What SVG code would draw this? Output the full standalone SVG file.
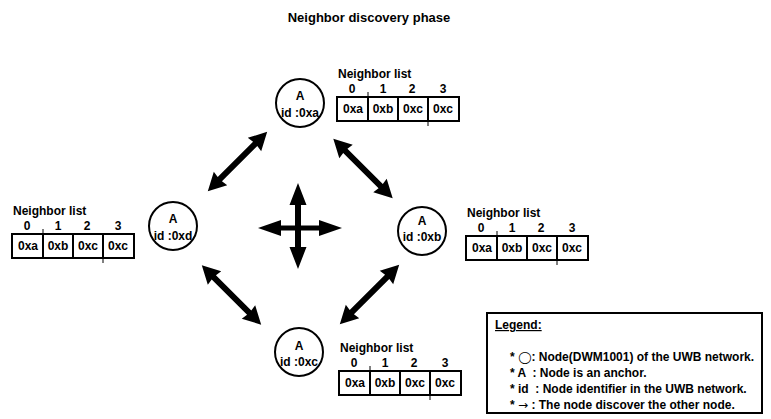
<svg xmlns="http://www.w3.org/2000/svg" xmlns:xlink="http://www.w3.org/1999/xlink" width="771" height="419" viewBox="0 0 771 419">
<style>
text{font-family:"Liberation Sans",Arial,sans-serif;font-weight:bold;fill:#000}
.title{font-size:13px}
.nd{font-size:12px;text-anchor:middle}
.lbl{font-size:12px}
.idx{font-size:12px;text-anchor:middle}
.cell{font-size:12px;text-anchor:middle}
.lg{font-size:12px;white-space:pre}
.sym{font-family:"DejaVu Sans",sans-serif;font-weight:normal}
.ring{fill:#fff;stroke:#000;stroke-width:2}
.box{fill:#fff;stroke:#000;stroke-width:2}
.div{stroke:#000;stroke-width:2}
.tick{stroke:#000;stroke-width:1}
</style>
<defs>
<polygon id="dbl" points="-42,0 -24,-9.5 -25,-3 25,-3 24,-9.5 42,0 24,9.5 25,3 -25,3 -24,9.5" fill="#000"/>
<g id="nlist">
<text class="lbl" x="1" y="-19">Neighbor list</text>
<text class="idx" x="15" y="-4">0</text>
<text class="idx" x="46" y="-4">1</text>
<text class="idx" x="75" y="-4">2</text>
<text class="idx" x="106" y="-4">3</text>
<rect class="box" x="0" y="0" width="122" height="24"/>
<line class="div" x1="31" y1="0" x2="31" y2="24"/>
<line class="div" x1="61" y1="0" x2="61" y2="24"/>
<line class="div" x1="91" y1="0" x2="91" y2="24"/>
<line class="tick" x1="31" y1="-5" x2="31" y2="0"/>
<line class="tick" x1="91" y1="24" x2="91" y2="29"/>
<text class="cell" x="16" y="16">0xa</text>
<text class="cell" x="46" y="16">0xb</text>
<text class="cell" x="76" y="16">0xc</text>
<text class="cell" x="106" y="16">0xc</text>
</g>
</defs>
<rect width="771" height="419" fill="#fff"/>
<text class="title" x="369" y="22" text-anchor="middle">Neighbor discovery phase</text>

<g id="connectors">
<use xlink:href="#dbl" transform="translate(237.5,161.5) rotate(-45)"/>
<use xlink:href="#dbl" transform="translate(363,168.5) rotate(45)"/>
<use xlink:href="#dbl" transform="translate(231.5,295) rotate(45)"/>
<use xlink:href="#dbl" transform="translate(369.5,294.5) rotate(-45)"/>
<g id="cross" fill="#000">
<polygon points="258,228 281,220 281,225.5 319,225.5 319,220 342,228 319,236 319,230.5 281,230.5 281,236"/>
<polygon points="298,183 306.5,205 301,205 301,247 306.5,247 298,269 289.5,247 295,247 295,205 289.5,205"/>
</g>
</g>

<g id="node-0xa">
<circle class="ring" cx="300" cy="103" r="24"/>
<text class="nd" x="300" y="100">A</text>
<text class="nd" x="300" y="117">id :0xa</text>
<use xlink:href="#nlist" transform="translate(337,97)"/>
</g>
<g id="node-0xd">
<circle class="ring" cx="173" cy="226" r="24"/>
<text class="nd" x="173" y="223">A</text>
<text class="nd" x="173" y="240">id :0xd</text>
<use xlink:href="#nlist" transform="translate(12,234)"/>
</g>
<g id="node-0xb">
<circle class="ring" cx="422" cy="231" r="24"/>
<text class="nd" x="422" y="225">A</text>
<text class="nd" x="422" y="241">id :0xb</text>
<use xlink:href="#nlist" transform="translate(466,236)"/>
</g>
<g id="node-0xc">
<circle class="ring" cx="299" cy="352" r="24"/>
<text class="nd" x="299" y="350">A</text>
<text class="nd" x="299" y="366">id :0xc</text>
<use xlink:href="#nlist" transform="translate(339,371)"/>
</g>

<g id="legend">
<rect x="487" y="313" width="275" height="100" fill="#fff" stroke="#000" stroke-width="2"/>
<text class="lg" x="495" y="329" text-decoration="underline">Legend:</text>
<text class="lg" x="510" y="361">* <tspan class="sym">◯</tspan>: Node(DWM1001) of the UWB network.</text>
<text class="lg" x="510" y="377">* A  : Node is an anchor.</text>
<text class="lg" x="510" y="393">* id  : Node identifier in the UWB network.</text>
<text class="lg" x="510" y="409">* <tspan class="sym">→</tspan> : The node discover the other node.</text>
</g>
</svg>
